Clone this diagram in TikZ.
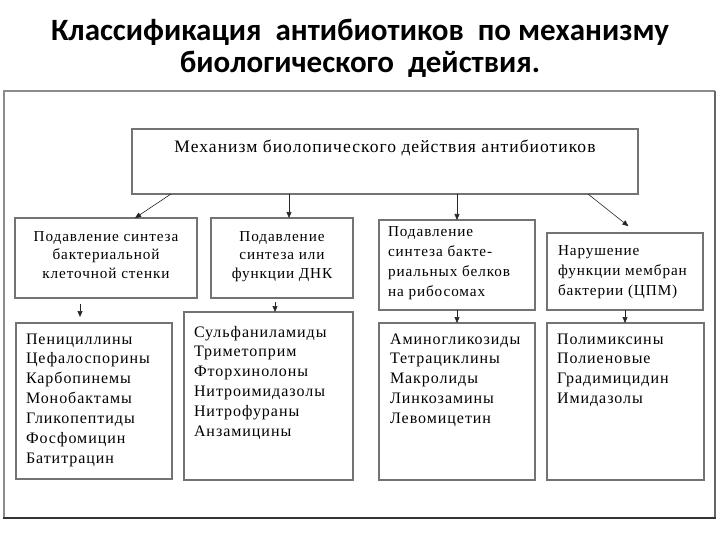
\documentclass[tikz,border=0pt]{standalone}
\usepackage{fontspec}
\setmainfont{Liberation Serif}
\newfontfamily\titlefont{Carlito}
\newfontfamily\boxfont[LetterSpace=6]{Liberation Serif}
\usetikzlibrary{arrows.meta,calc}
\newcommand\bxt[5]{\parbox[c][#2][t]{#1}{#3\rule{0pt}{#4}\ignorespaces #5}}
\begin{document}
\begin{tikzpicture}[x=1pt,y=-1pt,
  box/.style={draw=black!55, line width=1.1pt, rectangle, inner sep=0pt, outer sep=0pt, anchor=north west},
  arr/.style={-{Triangle[length=6pt,width=5pt]}, line width=0.6pt, draw=black!85},
  ttl/.style={font=\titlefont\bfseries\fontsize{31}{32}\selectfont},
  top/.style={font=\boxfont\fontsize{17.5}{18}\selectfont},
  mid/.style={font=\boxfont\fontsize{15.2}{19}\selectfont},
  itm/.style={font=\boxfont\fontsize{16}{19.8}\selectfont}]
\useasboundingbox (0,0) rectangle (720,540);
\fill[white] (0,0) rectangle (720,540);
% outer frame
\draw[black!45, line width=1.4pt] (4,518) -- (4,91) -- (715,91);
\draw[black!60, line width=1.4pt] (715,91) -- (715,518);
\draw[black!80, line width=2pt] (3,518) -- (716,518);
% title
\node[ttl, inner sep=0pt, anchor=north] (title) at (360,0)
  {\parbox[t]{716pt}{\centering\rule{0pt}{40pt}Классификация\ \ антибиотиков\ \ по механизму\\биологического\ \ действия.}};
% top box
\node[box, top] (T) at (132,129) {\bxt{506pt}{65pt}{\centering}{24pt}{Механизм биолопического действия антибиотиков}};
% level 2
\node[box, mid] (A) at (15,218) {\bxt{182pt}{80pt}{\centering\baselineskip=18.5pt}{23pt}{Подавление синтеза\\бактериальной\\клеточной стенки}};
\node[box, mid] (B) at (211,218) {\bxt{142pt}{80pt}{\centering\baselineskip=18.5pt}{23pt}{Подавление\\синтеза или\\функции ДНК}};
\node[box, mid] (C) at (379,220) {\bxt{156pt}{90pt}{\raggedright\leftskip=9pt\baselineskip=20pt}{16pt}{Подавление\\синтеза бакте-\\риальных белков\\на рибосомах}};
\node[box, mid] (D) at (547,233) {\bxt{156pt}{77pt}{\raggedright\leftskip=11pt\baselineskip=20pt}{22pt}{Нарушение\\функции мембран\\бактерии (ЦПМ)}};
% level 3
\node[box, itm] (E) at (16,323) {\bxt{156pt}{156pt}{\raggedright\leftskip=10pt\baselineskip=19.9pt}{21pt}{Пенициллины\\Цефалоспорины\\Карбопинемы\\Монобактамы\\Гликопептиды\\Фосфомицин\\Батитрацин}};
\node[box, itm] (F) at (184,312) {\bxt{169pt}{168pt}{\raggedright\leftskip=10pt\baselineskip=19.8pt}{25pt}{Сульфаниламиды\\Триметоприм\\Фторхинолоны\\Нитроимидазолы\\Нитрофураны\\Анзамицины}};
\node[box, itm] (G) at (379,323) {\bxt{156pt}{157pt}{\raggedright\leftskip=11pt\baselineskip=19.8pt}{21pt}{Аминогликозиды\\Тетрациклины\\Макролиды\\Линкозамины\\Левомицетин}};
\node[box, itm] (H) at (547,323) {\bxt{157pt}{157pt}{\raggedright\leftskip=10pt\baselineskip=19.8pt}{21pt}{Полимиксины\\Полиеновые\\Градимицидин\\Имидазолы}};
% arrows from top box
\draw[arr] ([xshift=39pt]T.south west) -- ([xshift=120pt]A.north west);
\draw[arr] ([xshift=157pt]T.south west) -- ([xshift=78pt]B.north west);
\draw[arr] ([xshift=325pt]T.south west) -- ([xshift=78pt]C.north west);
\draw[arr, shorten >=11pt] ([xshift=456pt]T.south west) -- ([xshift=90pt]D.north west);
% arrows to item boxes
\draw[arr, shorten <=6pt, shorten >=6pt] ([xshift=65pt]A.south west) -- ([xshift=64pt]E.north west);
\draw[arr, shorten <=4pt] ([xshift=64pt]B.south west) -- ([xshift=91pt]F.north west);
\draw[arr] ([xshift=78pt]C.south west) -- ([xshift=78pt]G.north west);
\draw[arr] ([xshift=78pt]D.south west) -- ([xshift=78pt]H.north west);
\end{tikzpicture}
\end{document}
